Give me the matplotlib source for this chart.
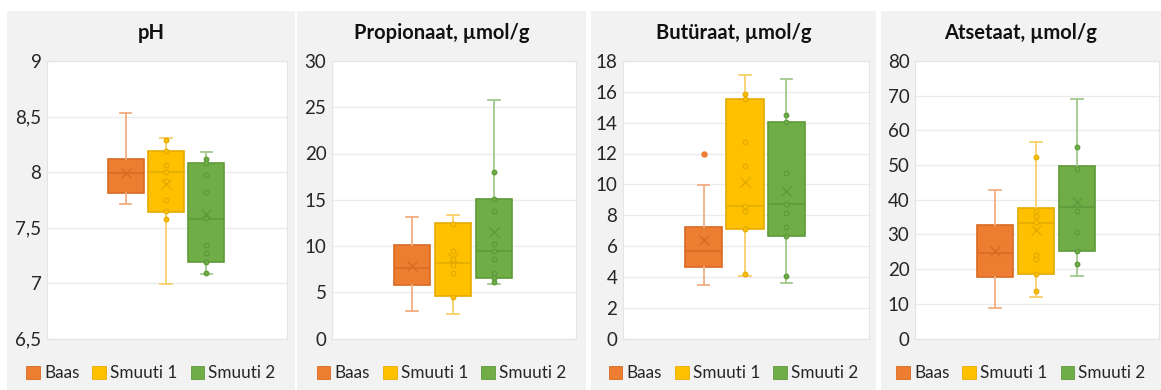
import matplotlib
matplotlib.use("Agg")
import matplotlib.pyplot as plt
from matplotlib.patches import Rectangle, Patch
from matplotlib.ticker import FuncFormatter
import numpy as np

plt.rcParams['font.family'] = ['Lato', 'DejaVu Sans']

groups = ["Baas", "Smuuti 1", "Smuuti 2"]
colors = ["#ED7D31", "#FFC000", "#70AD47"]
edge_colors = ["#D86A22", "#E5AC00", "#5E9A3A"]
whisker_colors = ["#F2AE82", "#F7D06A", "#A3C98D"]
titles = ["pH", "Propionaat, µmol/g", "Butüraat, µmol/g", "Atsetaat, µmol/g"]

# ---- pH ----
ph_whislo = [7.71, 6.99, 7.08]
ph_q1 = [7.81, 7.64, 7.19]
ph_med = [7.99, 8.00, 7.58]
ph_q3 = [8.12, 8.19, 8.08]
ph_whishi = [8.53, 8.31, 8.18]
ph_mean = [7.99, 7.89, 7.62]
ph_points = [[], [8.29, 8.19, 8.06, 8.00, 7.92, 7.75, 7.65, 7.58],
             [8.12, 8.08, 7.97, 7.82, 7.59, 7.34, 7.27, 7.19, 7.09]]
ph_fliers = [[], [], []]
ph_ticks = [6.5, 7, 7.5, 8, 8.5, 9]

# ---- Propionaat ----
pr_whislo = [3.0, 2.6, 5.9]
pr_q1 = [5.75, 4.56, 6.53]
pr_med = [7.61, 8.2, 9.44]
pr_q3 = [10.07, 12.5, 15.05]
pr_whishi = [13.1, 13.3, 25.8]
pr_mean = [7.85, 8.73, 11.5]
pr_points = [[], [12.4, 9.5, 8.6, 7.9, 7.07, 4.53],
             [18.0, 15.05, 13.8, 10.2, 9.49, 8.58, 7.07, 6.57, 6.1]]
pr_fliers = [[], [], []]
pr_ticks = [0, 5, 10, 15, 20, 25, 30]

# ---- Butüraat ----
bu_whislo = [3.48, 4.04, 3.57]
bu_q1 = [4.63, 7.09, 6.66]
bu_med = [5.69, 8.59, 8.70]
bu_q3 = [7.24, 15.53, 14.02]
bu_whishi = [9.93, 17.07, 16.83]
bu_mean = [6.42, 10.17, 9.56]
bu_points = [[], [15.88, 15.53, 12.72, 11.18, 8.59, 8.28, 7.09, 4.17],
             [14.51, 14.02, 10.73, 8.70, 8.11, 7.24, 6.66, 4.04]]
bu_fliers = [[12.0], [], []]
bu_ticks = [0, 2, 4, 6, 8, 10, 12, 14, 16, 18]

# ---- Atsetaat ----
at_whislo = [8.9, 12.0, 18.1]
at_q1 = [17.7, 18.6, 25.1]
at_med = [24.7, 33.4, 37.8]
at_q3 = [32.7, 37.6, 49.7]
at_whishi = [42.9, 56.6, 69.1]
at_mean = [25.2, 31.2, 39.3]
at_points = [[], [52.4, 36.9, 35.3, 33.6, 24.1, 22.8, 18.6, 13.6],
             [55.1, 49.0, 36.9, 30.6, 25.2, 21.6]]
at_fliers = [[], [], []]
at_ticks = [0, 10, 20, 30, 40, 50, 60, 70, 80]

panels = [
    (ph_whislo, ph_q1, ph_med, ph_q3, ph_whishi, ph_mean, ph_points, ph_fliers, ph_ticks),
    (pr_whislo, pr_q1, pr_med, pr_q3, pr_whishi, pr_mean, pr_points, pr_fliers, pr_ticks),
    (bu_whislo, bu_q1, bu_med, bu_q3, bu_whishi, bu_mean, bu_points, bu_fliers, bu_ticks),
    (at_whislo, at_q1, at_med, at_q3, at_whishi, at_mean, at_points, at_fliers, at_ticks),
]

W, H = 1161, 390
fig = plt.figure(figsize=(W / 100, H / 100), dpi=100)
fig.patch.set_facecolor("white")

# panel backgrounds (pixel extents)
panel_x = [(7, 295), (297, 586), (591, 876), (881, 1161)]
axes_x = [(47, 287), (332, 576), (623, 869), (915, 1159)]
ax_top, ax_bot = 61, 338.5
panel_top = 11

fmt = FuncFormatter(lambda v, p: f"{v:g}".replace(".", ","))

for i, (wlo, q1, med, q3, whi, mean, pts, fl, ticks) in enumerate(panels):
    px0, px1 = panel_x[i]
    fig.patches.append(Rectangle((px0 / W, 0), (px1 - px0) / W, (H - panel_top) / H,
                                 transform=fig.transFigure, facecolor="#F2F2F2",
                                 edgecolor="none", zorder=-10))
    ax0, ax1 = axes_x[i]
    ax = fig.add_axes([ax0 / W, 1 - ax_bot / H, (ax1 - ax0) / W, (ax_bot - ax_top) / H])
    ax.set_facecolor("white")
    positions = [-1, 0, 1]
    for g in range(3):
        stats = [dict(whislo=wlo[g], q1=q1[g], med=med[g], q3=q3[g], whishi=whi[g],
                      mean=mean[g], fliers=fl[g], label=groups[g])]
        ax.bxp(stats, positions=[positions[g]], widths=0.9, patch_artist=True,
               showmeans=True, capwidths=0.28, manage_ticks=False,
               boxprops=dict(facecolor=colors[g], edgecolor=edge_colors[g], linewidth=1.2),
               medianprops=dict(color=edge_colors[g], linewidth=1.2),
               whiskerprops=dict(color=whisker_colors[g], linewidth=1.3),
               capprops=dict(color=whisker_colors[g], linewidth=1.3),
               meanprops=dict(marker="x", markeredgecolor=edge_colors[g],
                              markersize=7, markeredgewidth=1.0),
               flierprops=dict(marker="o", markerfacecolor=colors[g],
                               markeredgecolor=colors[g], markersize=3.6))
        if pts[g]:
            ax.scatter([positions[g]] * len(pts[g]), pts[g], s=11,
                       facecolor=colors[g], edgecolor=edge_colors[g], linewidth=0.9,
                       zorder=4)
    ax.set_xlim(-2.95, 3.0)
    ax.set_ylim(ticks[0], ticks[-1])
    ax.set_yticks(ticks)
    ax.yaxis.set_major_formatter(fmt)
    ax.set_xticks([])
    ax.yaxis.grid(True, color="#EBEBEB", linewidth=1.0)
    ax.set_axisbelow(True)
    for s in ax.spines.values():
        s.set_color("#E4E4E4")
        s.set_linewidth(0.8)
    ax.tick_params(axis="y", length=0, pad=4, labelsize=13.5, labelcolor="#262626")

    cx = (px0 + px1) / 2
    fig.text(cx / W, 1 - 33 / H, titles[i], ha="center", va="center",
             fontsize=14.5, fontweight="bold", color="#111111")
    handles = [Patch(facecolor=colors[g], edgecolor=edge_colors[g], linewidth=0.6,
                     label=groups[g]) for g in range(3)]
    fig.legend(handles=handles, loc="center", bbox_to_anchor=(cx / W, 1 - 373 / H),
               ncol=3, frameon=False, fontsize=12.3, handlelength=0.8,
               handleheight=0.8, handletextpad=0.25, columnspacing=0.75,
               labelcolor="#262626")

fig.savefig("out.png", dpi=100, facecolor="white")
